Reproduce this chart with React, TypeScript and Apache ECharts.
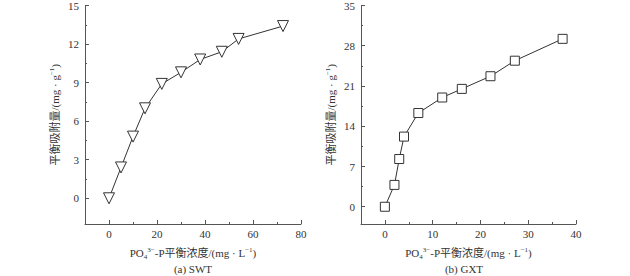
import React, { useEffect, useRef } from "react";
import * as echarts from "echarts";

const swtX = [0, 5, 10, 15, 22, 30, 38, 47, 54, 72.5];
const swtY = [0, 2.4, 4.8, 7.0, 8.9, 9.8, 10.8, 11.4, 12.4, 13.4];
const gxtX = [0, 2, 3, 4, 7, 12, 16.1, 22.1, 27.2, 37.2];
const gxtY = [0, 3.8, 8.3, 12.2, 16.3, 19.0, 20.5, 22.7, 25.4, 29.2];

const swtXTicks = [0, 20, 40, 60, 80];
const swtXMinor = [10, 30, 50, 70];
const swtYTicks = [0, 3, 6, 9, 12, 15];
const swtYMinor = [1.5, 4.5, 7.5, 10.5, 13.5];
const gxtXTicks = [0, 10, 20, 30, 40];
const gxtXMinor = [5, 15, 25, 35];
const gxtYTicks = [0, 7, 14, 21, 28, 35];
const gxtYMinor = [3.5, 10.5, 17.5, 24.5, 31.5];

const captions = ["(a) SWT", "(b) GXT"];

const FONT = "'Liberation Serif', 'Times New Roman', 'Noto Sans CJK SC', serif";
const TXT = "#333";
const AX = "#555";

const rich = {
  n: { fontSize: 11, fontFamily: FONT, color: TXT, lineHeight: 14, verticalAlign: "middle" as const },
  sup: { fontSize: 7, fontFamily: FONT, color: TXT, verticalAlign: "top" as const, lineHeight: 14 },
  sub: { fontSize: 7, fontFamily: FONT, color: TXT, verticalAlign: "bottom" as const, lineHeight: 14 },
};

const xName = "{n|PO}{sub|4}{sup|3−}{n|-P平衡浓度/(mg · L}{sup|−1}{n|)}";
const yName = "{n|平衡吸附量/(mg · g}{sup|−1}{n|)}";

export default function App() {
  const ref = useRef<HTMLDivElement>(null);
  useEffect(() => {
    if (!ref.current) return;
    const chart = echarts.init(ref.current, null, { renderer: "svg" });

    const mainX = (gi: number, min: number, max: number, ticks: number[]) => ({
      type: "value",
      gridIndex: gi,
      min,
      max,
      name: xName,
      nameLocation: "middle",
      nameGap: 22,
      nameTextStyle: { rich },
      axisLine: { show: true, onZero: false, lineStyle: { color: AX, width: 1 } },
      axisTick: { show: true, inside: true, length: 4, customValues: ticks, lineStyle: { color: AX } },
      axisLabel: { customValues: ticks, fontSize: 11, fontFamily: FONT, color: TXT, margin: 4 },
      splitLine: { show: false },
    });
    const minorX = (gi: number, min: number, max: number, ticks: number[]) => ({
      type: "value",
      gridIndex: gi,
      min,
      max,
      position: "bottom",
      axisLine: { show: false, onZero: false },
      axisTick: { show: true, inside: true, length: 2, customValues: ticks, lineStyle: { color: AX } },
      axisLabel: { show: false },
      splitLine: { show: false },
    });
    const mainY = (gi: number, min: number, max: number, ticks: number[]) => ({
      type: "value",
      gridIndex: gi,
      min,
      max,
      name: yName,
      nameLocation: "middle",
      nameGap: 23,
      nameRotate: 90,
      nameTextStyle: { rich },
      axisLine: { show: true, onZero: false, lineStyle: { color: AX, width: 1 } },
      axisTick: { show: true, inside: true, length: 4, customValues: ticks, lineStyle: { color: AX } },
      axisLabel: { customValues: ticks, fontSize: 11, fontFamily: FONT, color: TXT, margin: 6 },
      splitLine: { show: false },
    });
    const minorY = (gi: number, min: number, max: number, ticks: number[]) => ({
      type: "value",
      gridIndex: gi,
      min,
      max,
      position: "left",
      axisLine: { show: false, onZero: false },
      axisTick: { show: true, inside: true, length: 2, customValues: ticks, lineStyle: { color: AX } },
      axisLabel: { show: false },
      splitLine: { show: false },
    });

    chart.setOption({
      animation: false,
      backgroundColor: "#fff",
      grid: [
        { left: 85, top: 4, width: 216, height: 220 },
        { left: 361, top: 4, width: 215, height: 220 },
      ],
      xAxis: [
        mainX(0, -10, 80, swtXTicks),
        mainX(1, -5, 40, gxtXTicks),
        minorX(0, -10, 80, swtXMinor),
        minorX(1, -5, 40, gxtXMinor),
      ],
      yAxis: [
        mainY(0, -2, 15, swtYTicks),
        mainY(1, -3, 35, gxtYTicks),
        minorY(0, -2, 15, swtYMinor),
        minorY(1, -3, 35, gxtYMinor),
      ],
      series: [
        {
          type: "line",
          xAxisIndex: 0,
          yAxisIndex: 0,
          data: swtX.map((x, i) => [x, swtY[i]]),
          symbol: "triangle",
          symbolRotate: 180,
          symbolSize: 11,
          lineStyle: { color: "#333", width: 1 },
          itemStyle: { color: "#fff", borderColor: "#333", borderWidth: 1 },
        },
        {
          type: "line",
          xAxisIndex: 1,
          yAxisIndex: 1,
          data: gxtX.map((x, i) => [x, gxtY[i]]),
          symbol: "rect",
          symbolSize: 9,
          lineStyle: { color: "#333", width: 1 },
          itemStyle: { color: "#fff", borderColor: "#333", borderWidth: 1 },
        },
      ],
      graphic: [
        {
          type: "text",
          x: 193,
          y: 269,
          style: { text: captions[0], font: `11px ${FONT}`, fill: TXT, align: "center", verticalAlign: "middle" },
        },
        {
          type: "text",
          x: 464,
          y: 269,
          style: { text: captions[1], font: `11px ${FONT}`, fill: TXT, align: "center", verticalAlign: "middle" },
        },
      ],
    });
    return () => chart.dispose();
  }, []);
  return <div ref={ref} style={{ position: "fixed", left: 0, top: 0, width: 630, height: 276 }} />;
}
